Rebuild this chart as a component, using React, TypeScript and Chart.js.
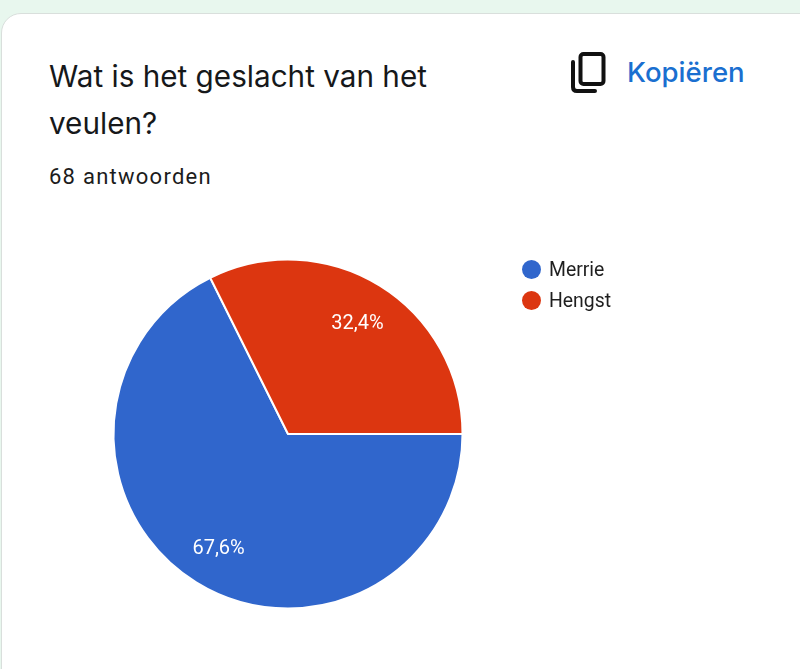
import { useEffect, useRef } from 'react';
import Chart from 'chart.js/auto';
import type { Plugin } from 'chart.js';

const categories = ['Merrie', 'Hengst'];
const answerCounts = [46, 22];
const percentLabels = ['67,6%', '32,4%'];
const sliceColors = ['#3066cc', '#dc3610'];

// percentage text inside each slice, placed along the arc's own middle angle
const sliceLabels: Plugin<'pie'> = {
  id: 'sliceLabels',
  afterDatasetsDraw(chart) {
    const { ctx } = chart;
    chart.getDatasetMeta(0).data.forEach((arc, index) => {
      const { x, y, startAngle, endAngle, outerRadius } = arc.getProps(
        ['x', 'y', 'startAngle', 'endAngle', 'outerRadius'],
        true,
      ) as unknown as { x: number; y: number; startAngle: number; endAngle: number; outerRadius: number };
      const middle = (startAngle + endAngle) / 2;
      const distance = outerRadius * 0.756;
      ctx.save();
      ctx.font = '20px Roboto';
      ctx.fillStyle = '#ffffff';
      ctx.textAlign = 'center';
      ctx.textBaseline = 'middle';
      ctx.fillText(percentLabels[index], x + Math.cos(middle) * distance, y + Math.sin(middle) * distance + 2.5);
      ctx.restore();
    });
  },
};

function CopyIcon() {
  return (
    <svg
      width="36"
      height="42"
      viewBox="0 0 36 42"
      style={{ position: 'absolute', left: 570, top: 52 }}
      fill="none"
      stroke="#111111"
      strokeWidth="4"
    >
      <rect x="10.5" y="2" width="23" height="30" rx="3" />
      <path d="M3 10 V35 Q3 39 7 39 H25" strokeLinecap="round" />
    </svg>
  );
}

export default function App() {
  const canvasRef = useRef<HTMLCanvasElement | null>(null);

  useEffect(() => {
    if (!canvasRef.current) {
      return;
    }

    const chart = new Chart(canvasRef.current, {
      type: 'pie',
      plugins: [sliceLabels],
      data: {
        labels: categories,
        datasets: [
          {
            data: answerCounts,
            backgroundColor: sliceColors,
            borderColor: '#ffffff',
            borderWidth: 2,
            hoverOffset: 0,
          },
        ],
      },
      options: {
        animation: false,
        responsive: false,
        rotation: 90,
        layout: { padding: { left: 112.5, right: 336.5, top: 258.5, bottom: 59.5 } },
        plugins: {
          legend: { display: false },
          tooltip: { enabled: false },
        },
      },
    });

    return () => {
      chart.destroy();
    };
  }, []);

  return (
    <div
      style={{
        position: 'fixed',
        left: 0,
        top: 0,
        width: 800,
        height: 669,
        overflow: 'hidden',
        background: '#e8f7ee',
        fontFamily: 'Roboto, sans-serif',
      }}
    >
      <div
        style={{
          position: 'absolute',
          left: 1,
          top: 13,
          width: 840,
          height: 700,
          background: '#ffffff',
          border: '1px solid #d9dfdc',
          borderRadius: 20,
        }}
      />
      <div
        style={{
          position: 'absolute',
          left: 49,
          top: 53,
          width: 420,
          fontFamily: 'Inter',
          fontSize: 29.7,
          lineHeight: '47px',
          color: '#16181a',
        }}
      >
        Wat is het geslacht van het
        <br />
        veulen?
      </div>
      <div
        style={{
          position: 'absolute',
          left: 49,
          top: 163,
          fontSize: 22,
          lineHeight: '28px',
          letterSpacing: 1.25,
          color: '#1c1c1c',
        }}
      >
        68 antwoorden
      </div>
      <CopyIcon />
      <div
        style={{
          position: 'absolute',
          left: 627,
          top: 56,
          fontFamily: 'Inter',
          fontWeight: 500,
          fontSize: 27.6,
          lineHeight: '32px',
          color: '#1a6fd0',
        }}
      >
        Kopiëren
      </div>
      <canvas ref={canvasRef} width={800} height={669} style={{ position: 'absolute', left: 0, top: 0 }} />
      {categories.map((category, index) => (
        <div
          key={category}
          style={{ position: 'absolute', left: 522, top: 258 + index * 31, display: 'flex', alignItems: 'center', height: 22 }}
        >
          <span
            style={{
              width: 19,
              height: 19,
              borderRadius: '50%',
              background: sliceColors[index],
              marginRight: 8,
            }}
          />
          <span style={{ fontSize: 19.4, color: '#1f1f1f' }}>{category}</span>
        </div>
      ))}
    </div>
  );
}
